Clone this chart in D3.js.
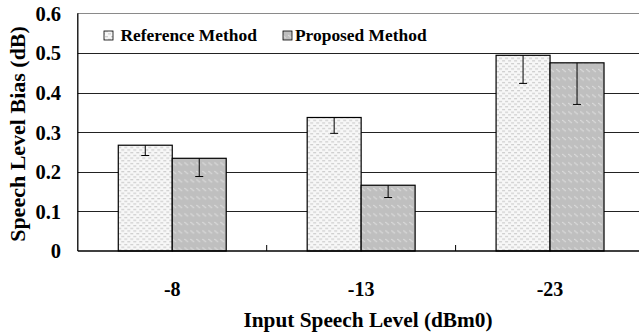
<!DOCTYPE html>
<html><head><meta charset="utf-8">
<script src="https://cdn.jsdelivr.net/npm/d3@7"></script>
<style>
html,body{margin:0;padding:0;background:#fff;}
svg{display:block;}
text{font-family:"Liberation Serif","Times New Roman",serif;font-weight:bold;fill:#000;}
</style></head>
<body>
<svg id="chart" width="639" height="332"></svg>
<script>
const categories = ["-8", "-13", "-23"];
const seriesNames = ["Reference Method", "Proposed Method"];
const referenceValues = [0.267, 0.337, 0.494];
const proposedValues = [0.234, 0.166, 0.475];
const referenceLower = [0.241, 0.297, 0.423];
const proposedLower = [0.188, 0.135, 0.370];
const yTicks = [0, 0.1, 0.2, 0.3, 0.4, 0.5, 0.6];
const yTickLabels = ["0", "0.1", "0.2", "0.3", "0.4", "0.5", "0.6"];

const svg = d3.select("#chart");
const plotLeft = 77.8, plotRight = 644.5, plotTop = 13.3, plotBottom = 251;

const defs = svg.append("defs");
const p1 = defs.append("pattern").attr("id","patRef").attr("patternUnits","userSpaceOnUse")
  .attr("width",6).attr("height",5.4);
p1.append("rect").attr("width",6).attr("height",5.4).attr("fill","#f7f7f7");
p1.append("rect").attr("x",0).attr("y",1).attr("width",3).attr("height",1.1).attr("fill","#cacaca");
p1.append("rect").attr("x",3).attr("y",3.7).attr("width",3).attr("height",1.1).attr("fill","#cacaca");
const p2 = defs.append("pattern").attr("id","patProp").attr("patternUnits","userSpaceOnUse")
  .attr("width",6).attr("height",8.5);
p2.append("rect").attr("width",6).attr("height",8.5).attr("fill","#bfbfbf");
p2.append("line").attr("x1",0.5).attr("y1",1).attr("x2",3.5).attr("y2",4)
  .attr("stroke","#f2f2f2").attr("stroke-width",1).attr("stroke-dasharray","1,0.6");

const fills = ["url(#patRef)", "url(#patProp)"];

const y = d3.scaleLinear().domain([0, 0.6]).range([plotBottom, plotTop]);
const x0 = d3.scaleBand().domain(categories).range([plotLeft, plotRight])
  .paddingInner(0.4286).paddingOuter(0.2143);
const x1 = d3.scaleBand().domain(seriesNames).range([0, x0.bandwidth()]).padding(0);

svg.append("g").selectAll("line").data(yTicks.filter(t => t > 0)).join("line")
  .attr("x1", plotLeft).attr("x2", plotRight)
  .attr("y1", d => Math.round(y(d)) + 0.5).attr("y2", d => Math.round(y(d)) + 0.5)
  .attr("stroke", d => d === 0.6 ? "#8a8a8a" : "#222").attr("stroke-width", 1);

const data = categories.map((c, i) => ({
  cat: c,
  vals: [
    {s: seriesNames[0], v: referenceValues[i], lo: referenceLower[i], f: fills[0]},
    {s: seriesNames[1], v: proposedValues[i], lo: proposedLower[i], f: fills[1]}
  ]
}));

const groups = svg.append("g").selectAll("g").data(data).join("g")
  .attr("transform", d => `translate(${x0(d.cat)},0)`);

groups.selectAll("rect").data(d => d.vals).join("rect")
  .attr("x", d => x1(d.s)).attr("width", x1.bandwidth())
  .attr("y", d => y(d.v)).attr("height", d => y(0) - y(d.v))
  .attr("fill", d => d.f).attr("stroke", "#000").attr("stroke-width", 1.2);

const eb = groups.selectAll("g.eb").data(d => d.vals).join("g").attr("class","eb");
eb.append("line")
  .attr("x1", d => x1(d.s) + x1.bandwidth()/2).attr("x2", d => x1(d.s) + x1.bandwidth()/2)
  .attr("y1", d => y(d.v)).attr("y2", d => y(d.lo))
  .attr("stroke", "#000").attr("stroke-width", 1);
eb.append("line")
  .attr("x1", d => x1(d.s) + x1.bandwidth()/2 - 4).attr("x2", d => x1(d.s) + x1.bandwidth()/2 + 4)
  .attr("y1", d => y(d.lo)).attr("y2", d => y(d.lo))
  .attr("stroke", "#000").attr("stroke-width", 1);

svg.append("line").attr("x1", plotLeft).attr("x2", plotLeft).attr("y1", plotTop).attr("y2", plotBottom)
  .attr("stroke", "#000").attr("stroke-width", 1.3);
svg.append("line").attr("x1", plotLeft).attr("x2", plotRight).attr("y1", plotBottom).attr("y2", plotBottom)
  .attr("stroke", "#000").attr("stroke-width", 1.3);
const step = x0.step();
const seps = categories.slice(1).map(c => x0(c) - step * x0.paddingInner() / 2);
svg.append("g").selectAll("line").data(seps).join("line")
  .attr("x1", d => d).attr("x2", d => d).attr("y1", plotBottom).attr("y2", plotBottom - 6)
  .attr("stroke", "#000").attr("stroke-width", 1);

svg.append("g").selectAll("text").data(yTicks).join("text")
  .attr("x", 61).attr("y", d => y(d)).attr("dy", "0.36em")
  .attr("text-anchor", "end").style("font-size", "20.5px")
  .text((d, i) => yTickLabels[i]);

svg.append("g").selectAll("text").data(categories).join("text")
  .attr("x", d => x0(d) + x0.bandwidth()/2).attr("y", 296)
  .attr("text-anchor", "middle").style("font-size", "20px")
  .text(d => d);

svg.append("text").attr("x", 368).attr("y", 327).attr("text-anchor", "middle")
  .style("font-size", "21.3px").text("Input Speech Level (dBm0)");
svg.append("text").attr("transform", "translate(25,134) rotate(-90)")
  .attr("text-anchor", "middle").style("font-size", "22px").text("Speech Level Bias (dB)");

const legX = [104, 283];
const legTextX = [120.5, 295];
const leg = svg.append("g").selectAll("g").data(seriesNames).join("g");
leg.append("rect").attr("x", (d, i) => legX[i]).attr("y", 31).attr("width", 9).attr("height", 9)
  .attr("fill", (d, i) => fills[i]).attr("stroke", "#000").attr("stroke-width", 0.8);
leg.append("text").attr("x", (d, i) => legTextX[i]).attr("y", 41)
  .style("font-size", "17.4px").text(d => d);
</script>
</body></html>
